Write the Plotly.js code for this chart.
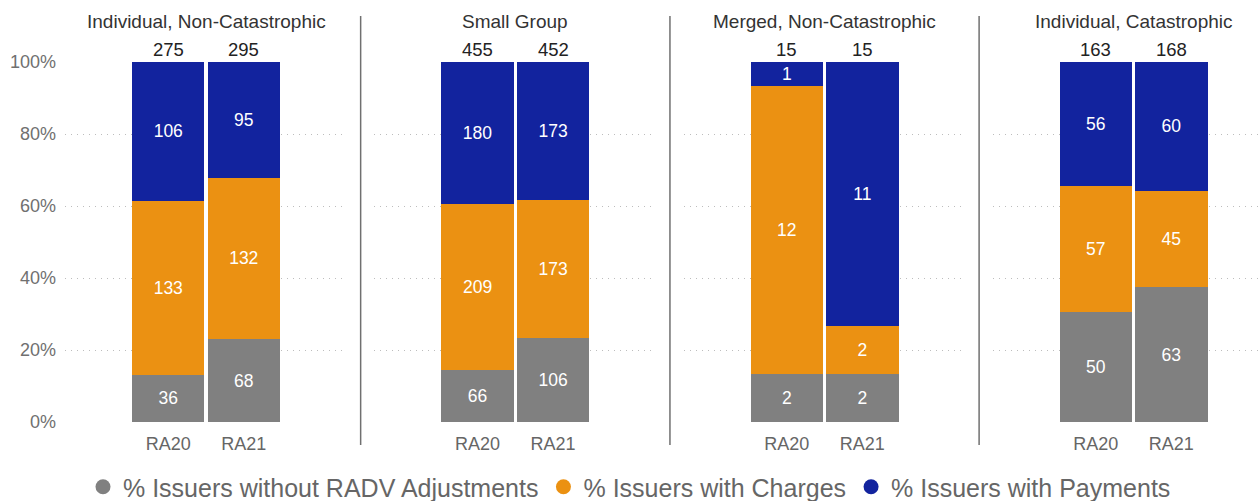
<!DOCTYPE html>
<html>
<head>
<meta charset="utf-8">
<script src="https://cdn.plot.ly/plotly-3.0.1.min.js"></script>
<style>html,body{margin:0;padding:0;background:#fff;overflow:hidden;}#chart{width:1259px;height:501px;}</style>
</head>
<body>
<div id="chart"></div>
<script>
const categories = ['RA20', 'RA21'];
const panelTitles = ['Individual, Non-Catastrophic', 'Small Group', 'Merged, Non-Catastrophic', 'Individual, Catastrophic'];
const seriesNames = ['% Issuers without RADV Adjustments', '% Issuers with Charges', '% Issuers with Payments'];
const seriesColors = ['#808080', '#EB9112', '#12239E'];
// counts per panel: [RA20, RA21]
const withoutAdj = [[36, 68], [66, 106], [2, 2], [50, 63]];
const withCharges = [[133, 132], [209, 173], [12, 2], [57, 45]];
const withPayments = [[106, 95], [180, 173], [1, 11], [56, 60]];
const totals = [[275, 295], [455, 452], [15, 15], [163, 168]];
const yTicks = [0, 20, 40, 60, 80, 100];

const W = 1259, H = 501;
const unit = 75.5;               // px per category
const pairCenters = [206, 515.3, 824.6, 1133.6];
const half = 141;
const seriesData = [withoutAdj, withCharges, withPayments];

const traces = [];
const layout = {
  width: W, height: H,
  margin: {l: 0, r: 0, t: 0, b: 0, autoexpand: false},
  paper_bgcolor: '#fff', plot_bgcolor: 'rgba(0,0,0,0)',
  barmode: 'stack', barnorm: 'percent', bargap: 0.04,
  font: {family: 'Liberation Sans, Arial, sans-serif', color: '#666'},
  showlegend: true,
  hovermode: false,
  annotations: [], shapes: [],
  legend: {orientation: 'h', x: 629.5 / W, xanchor: 'center', y: (H - 487) / H, yanchor: 'middle',
           font: {size: 25, color: '#666'}, itemwidth: 30, traceorder: 'normal', bgcolor: 'rgba(0,0,0,0)'},
  yaxis: {
    domain: [(H - 422) / H, (H - 62) / H], range: [0, 100], anchor: 'x',
    tickvals: yTicks, ticktext: yTicks.map(v => v + '%'),
    showgrid: true, gridcolor: '#bdbdbd', gridwidth: 1, griddash: '1px,5px',
    zeroline: false, showline: false, ticks: '',
    tickfont: {size: 18, color: '#707070'}, ticklabelstandoff: 8
  }
};

for (let p = 0; p < 4; p++) {
  const ax = p === 0 ? 'x' : 'x' + (p + 1);
  const axKey = p === 0 ? 'xaxis' : 'xaxis' + (p + 1);
  const c = pairCenters[p];
  const left = c - half;
  const right = Math.min(c + half, W);
  layout[axKey] = {
    domain: [left / W, right / W],
    type: 'category',
    range: [0.5 - (c - left) / unit, 0.5 + (right - c) / unit],
    anchor: 'y', showgrid: false, zeroline: false, showline: false, ticks: '',
    tickfont: {size: 18, color: '#666'}, ticklabelstandoff: 9, fixedrange: true
  };
  for (let s = 0; s < 3; s++) {
    traces.push({
      type: 'bar', x: categories, y: seriesData[s][p], xaxis: ax, yaxis: 'y',
      name: seriesNames[s], showlegend: false,
      marker: {color: seriesColors[s], line: {width: 0}},
      text: seriesData[s][p].map(String), textposition: 'inside', insidetextanchor: 'middle',
      constraintext: 'none',
      textangle: 0, textfont: {size: 17.5, color: '#ffffff'}
    });
  }
  layout.annotations.push({
    text: panelTitles[p], xref: 'paper', yref: 'paper', x: c / W, y: (H - 21) / H,
    xanchor: 'center', yanchor: 'middle', showarrow: false, font: {size: 19, color: '#333'}
  });
  categories.forEach((cat, i) => {
    layout.annotations.push({
      text: String(totals[p][i]), xref: ax, yref: 'y', x: cat, y: 100,
      xanchor: 'center', yanchor: 'bottom', yshift: 0, showarrow: false,
      font: {size: 18.5, color: '#222'}
    });
  });
  if (p > 0) {
    const dx = (pairCenters[p - 1] + pairCenters[p]) / 2;
    layout.shapes.push({type: 'line', xref: 'paper', yref: 'paper', x0: dx / W, x1: dx / W,
      y0: (H - 445) / H, y1: (H - 16) / H, line: {color: '#707070', width: 1.5}});
  }
}

// legend entries with round markers
for (let s = 0; s < 3; s++) {
  traces.push({type: 'scatter', mode: 'markers', x: [null], y: [null], xaxis: 'x', yaxis: 'y',
    name: seriesNames[s], marker: {color: seriesColors[s], size: 15, symbol: 'circle'}, showlegend: true});
}

Plotly.newPlot('chart', traces, layout, {displayModeBar: false, staticPlot: true});
</script>
</body>
</html>
